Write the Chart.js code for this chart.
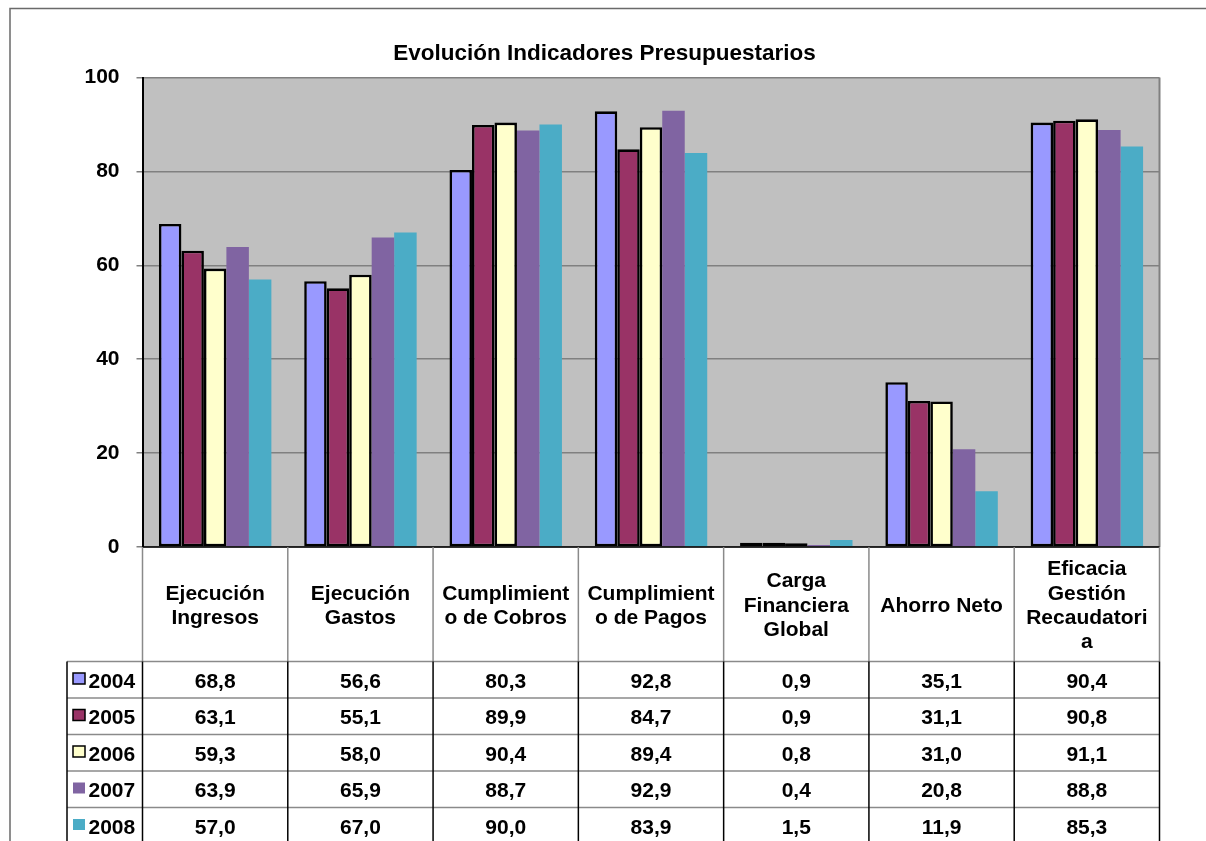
<!DOCTYPE html>
<html>
<head>
<meta charset="utf-8">
<script src="https://cdn.jsdelivr.net/npm/chart.js@4/dist/chart.umd.min.js"></script>
<style>
html,body{margin:0;padding:0;background:#fff;}
canvas{display:block;}
</style>
</head>
<body>
<canvas id="c" width="1206" height="841"></canvas>
<script>
const titleText = "Evolución Indicadores Presupuestarios";
const categories = [
  ["Ejecución", "Ingresos"],
  ["Ejecución", "Gastos"],
  ["Cumplimient", "o de Cobros"],
  ["Cumplimient", "o de Pagos"],
  ["Carga", "Financiera", "Global"],
  ["Ahorro Neto"],
  ["Eficacia", "Gestión", "Recaudatori", "a"]
];
const seriesNames = ["2004", "2005", "2006", "2007", "2008"];
const s2004 = [68.8, 56.6, 80.3, 92.8, 0.9, 35.1, 90.4];
const s2005 = [63.1, 55.1, 89.9, 84.7, 0.9, 31.1, 90.8];
const s2006 = [59.3, 58.0, 90.4, 89.4, 0.8, 31.0, 91.1];
const s2007 = [63.9, 65.9, 88.7, 92.9, 0.4, 20.8, 88.8];
const s2008 = [57.0, 67.0, 90.0, 83.9, 1.5, 11.9, 85.3];
const yTicks = [0, 20, 40, 60, 80, 100];

const seriesData = [s2004, s2005, s2006, s2007, s2008];
const colors = ["#9999FF", "#993366", "#FFFFCC", "#8064A2", "#4BACC6"];
const bordered = [true, true, true, false, false];
const FONT = "'Liberation Sans', Arial, sans-serif";

const datasets = seriesNames.map((n, i) => ({
  label: n,
  data: seriesData[i],
  backgroundColor: colors[i],
  borderColor: bordered[i] ? "#000000" : colors[i],
  borderWidth: bordered[i] ? 2.6 : 0,
  borderSkipped: false,
  categoryPercentage: 0.774,
  barPercentage: 1.0
}));

const fmt = v => v.toFixed(1).replace(".", ",");

const tablePlugin = {
  id: "tablePlugin",
  beforeDraw(chart) {
    const ctx = chart.ctx, a = chart.chartArea;
    ctx.save();
    ctx.fillStyle = "#C0C0C0";
    ctx.fillRect(a.left, a.top, a.right - a.left, a.bottom - a.top);
    ctx.restore();
  },
  afterDraw(chart) {
    const ctx = chart.ctx, a = chart.chartArea;
    const xs = chart.scales.x;
    const n = categories.length;
    const catW = (a.right - a.left) / n;
    const bounds = [];
    for (let i = 0; i <= n; i++) {
      bounds.push(i < n ? xs.getPixelForValue(i) - catW / 2 : xs.getPixelForValue(n - 1) + catW / 2);
    }
    const headTop = a.bottom;
    const headBottom = 661.5;
    const rowH = 36.5;
    const legLeft = 67;
    const tableBottom = headBottom + rowH * seriesNames.length;
    ctx.save();
    // outer frame
    ctx.strokeStyle = "#6a6a6a";
    ctx.lineWidth = 1.5;
    ctx.beginPath();
    ctx.moveTo(10, 841); ctx.lineTo(10, 8.5); ctx.lineTo(1206, 8.5);
    ctx.stroke();

    // right border of plot
    ctx.strokeStyle = "#808080";
    ctx.lineWidth = 2;
    ctx.beginPath();
    ctx.moveTo(a.right, a.top); ctx.lineTo(a.right, a.bottom);
    ctx.stroke();

    // zero line black
    ctx.strokeStyle = "#000";
    ctx.lineWidth = 1.5;
    ctx.beginPath();
    ctx.moveTo(a.left, a.bottom); ctx.lineTo(a.right, a.bottom);
    ctx.stroke();

    // header verticals
    ctx.strokeStyle = "#8a8a8a";
    ctx.lineWidth = 1.5;
    bounds.forEach(b => {
      ctx.beginPath(); ctx.moveTo(b, headTop); ctx.lineTo(b, headBottom); ctx.stroke();
    });
    // horizontals
    ctx.strokeStyle = "#8a8a8a";
    for (let r = 0; r <= seriesNames.length; r++) {
      const y = headBottom + r * rowH;
      ctx.beginPath(); ctx.moveTo(legLeft, y); ctx.lineTo(bounds[n], y); ctx.stroke();
    }
    // row verticals
    ctx.strokeStyle = "#000";
    ctx.lineWidth = 1.5;
    [legLeft].concat(bounds).forEach(b => {
      ctx.beginPath(); ctx.moveTo(b, headBottom); ctx.lineTo(b, tableBottom); ctx.stroke();
    });

    // header text
    ctx.fillStyle = "#000";
    ctx.font = "bold 21px " + FONT;
    ctx.textAlign = "center";
    ctx.textBaseline = "alphabetic";
    const lh = 24.4;
    categories.forEach((lines, i) => {
      const cx = xs.getPixelForValue(i);
      lines.forEach((t, k) => {
        const y = 611.7 + (k - (lines.length - 1) / 2) * lh;
        ctx.fillText(t, cx, y);
      });
    });
    // values
    seriesData.forEach((arr, r) => {
      const y = 687.5 + r * rowH;
      arr.forEach((v, i) => {
        ctx.fillText(fmt(v), xs.getPixelForValue(i), y);
      });
    });
    // legend
    ctx.textAlign = "left";
    seriesNames.forEach((nm, r) => {
      const yc = 678.5 + r * rowH;
      ctx.fillStyle = colors[r];
      ctx.fillRect(73, yc - 5.5, 12, 11);
      if (bordered[r]) {
        ctx.strokeStyle = "#000";
        ctx.lineWidth = 1.5;
        ctx.strokeRect(73, yc - 5.5, 12, 11);
      }
      ctx.fillStyle = "#000";
      ctx.fillText(nm, 88.5, 687.5 + r * rowH);
    });
    // title
    ctx.textAlign = "center";
    ctx.font = "bold 22.5px " + FONT;
    ctx.fillText(titleText, 604.5, 60);
    ctx.restore();
  }
};

new Chart(document.getElementById("c"), {
  type: "bar",
  data: { labels: categories.map(c => c.join(" ")), datasets },
  options: {
    responsive: false,
    animation: false,
    devicePixelRatio: 1,
    layout: { padding: { left: 0, top: 77.5, right: 1206 - 1159.5, bottom: 841 - 547 } },
    plugins: { legend: { display: false }, title: { display: false }, tooltip: { enabled: false } },
    scales: {
      x: { display: false, offset: true, grid: { display: false } },
      y: {
        min: 0, max: 100,
        afterBuildTicks(scale) { scale.ticks = yTicks.map(v => ({ value: v })); },
        afterFit(scale) { scale.width = 142.5; },
        ticks: { font: { family: FONT, size: 21, weight: "bold" }, color: "#000", padding: 17 },
        grid: { color: "#808080", lineWidth: 1.5, tickLength: 6, tickColor: "#808080" },
        border: { color: "#000", width: 2 }
      }
    }
  },
  plugins: [tablePlugin]
});
</script>
</body>
</html>
